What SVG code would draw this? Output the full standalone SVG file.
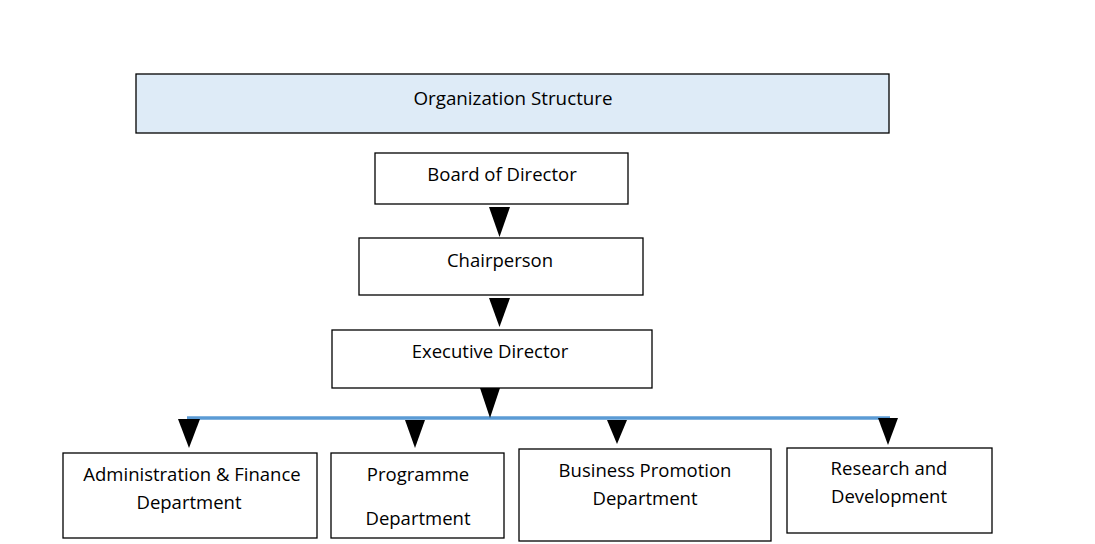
<svg xmlns="http://www.w3.org/2000/svg" width="1095" height="544" viewBox="0 0 1095 544">
<style>
.box{fill:#ffffff;stroke:#000000;stroke-width:1.3}
.title{fill:#deebf7;stroke:#000000;stroke-width:1.3}
text{font-family:"Open Sans","Liberation Sans",sans-serif;font-size:18.5px;fill:#000000;text-anchor:middle}
.arr{fill:#000000}
</style>
<rect width="1095" height="544" fill="#ffffff"/>
<g id="title-node">
<rect class="title" x="136" y="74" width="753" height="59"/>
<text x="513" y="105" style="font-size:18.8px">Organization Structure</text>
</g>
<g id="board">
<rect class="box" x="375" y="153" width="253" height="51"/>
<text x="502" y="181">Board of Director</text>
</g>
<g id="chairperson">
<rect class="box" x="359" y="238" width="284" height="57"/>
<text x="500" y="267">Chairperson</text>
</g>
<g id="executive">
<rect class="box" x="332" y="330" width="320" height="58"/>
<text x="490" y="358">Executive Director</text>
</g>
<g id="admin">
<rect class="box" x="63" y="453" width="254" height="85"/>
<text x="192" y="481">Administration &amp; Finance</text>
<text x="189" y="509">Department</text>
</g>
<g id="programme">
<rect class="box" x="331" y="453" width="173" height="85"/>
<text x="418" y="481">Programme</text>
<text x="418" y="525">Department</text>
</g>
<g id="business">
<rect class="box" x="519" y="449" width="252" height="92"/>
<text x="645" y="477">Business Promotion</text>
<text x="645" y="505">Department</text>
</g>
<g id="research">
<rect class="box" x="787" y="448" width="205" height="85"/>
<text x="889" y="475">Research and</text>
<text x="889" y="503">Development</text>
</g>
<g id="connectors">
<line x1="187" y1="418" x2="890" y2="418" stroke="#5b9bd5" stroke-width="3.5"/>
<polygon class="arr" points="489,207 510,207 499.5,237"/>
<polygon class="arr" points="489,298 510,298 499.5,327"/>
<polygon class="arr" points="480,388 500,388 490,418"/>
<polygon class="arr" points="178,419 200,419 189,448"/>
<polygon class="arr" points="405,420 425,420 415,448"/>
<polygon class="arr" points="607,420 627,420 617,444"/>
<polygon class="arr" points="878,418 898,418 888,445"/>
</g>
</svg>
